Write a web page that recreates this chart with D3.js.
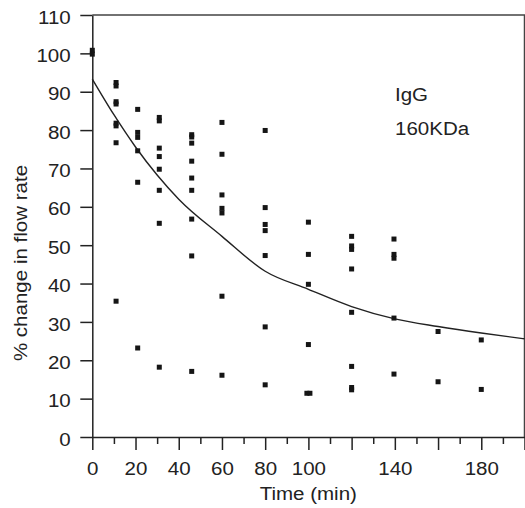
<!DOCTYPE html>
<html>
<head>
<meta charset="utf-8">
<script src="https://cdn.jsdelivr.net/npm/d3@7"></script>
<style>
  body { margin: 0; background: #fff; }
  text { font-family: "Liberation Sans", Arial, Helvetica, sans-serif; fill: #222; }
</style>
</head>
<body>
<div id="chart"></div>
<script>
// measured points: time (min) and % change in flow rate
var pointTimes = [0, 0,
  11, 11, 11, 11, 11, 11, 11, 11,
  21, 21, 21, 21, 21, 21,
  31, 31, 31, 31, 31, 31, 31, 31,
  46, 46, 46, 46, 46, 46, 46, 46, 46,
  60, 60, 60, 60, 60, 60, 60,
  80, 80, 80, 80, 80, 80, 80,
  100, 100, 100, 100, 99.3, 100.7,
  120, 120, 120, 120, 120, 120, 120, 120,
  139.6, 139.6, 139.6, 139.6, 139.6,
  160, 160,
  180, 180];
var pointValues = [100.8, 99.8,
  92.4, 91.5, 87.4, 86.8, 81.8, 81.1, 76.7, 35.4,
  85.4, 79.4, 78.1, 74.6, 66.4, 23.2,
  83.3, 82.4, 75.3, 73.1, 69.8, 64.3, 55.7, 18.2,
  78.8, 78.2, 76.6, 71.9, 67.5, 64.3, 56.8, 47.2, 17.1,
  82, 73.7, 63.1, 59.6, 58.4, 36.7, 16.1,
  79.9, 59.8, 55.4, 53.8, 47.3, 28.7, 13.6,
  56, 47.6, 39.8, 24.1, 11.4, 11.4,
  52.3, 49.8, 48.9, 43.8, 32.5, 18.4, 12.9, 12.3,
  51.6, 47.6, 46.6, 31, 16.4,
  27.5, 14.4,
  25.3, 12.4];

// fitted curve
var curveTimes = [0, 10, 20, 30, 40, 60, 80, 100, 120, 140, 160, 180, 200];
var curveValues = [93.3, 84.0, 75.6, 68.3, 62.0, 52.3, 43.2, 38.5, 34, 30.8, 28.8, 27.1, 25.6];

var xMajorTicks = [0, 20, 40, 60, 80, 100, 120, 140, 160, 180, 200];
var xMinorTicks = [10, 30, 50, 70, 90, 110, 130, 150, 170, 190];
var xTickLabels = [0, 20, 40, 60, 80, 100, 140, 180];
var yTicks = [0, 10, 20, 30, 40, 50, 60, 70, 80, 90, 100, 110];
var noteLines = ["IgG", "160KDa"];

var width = 525, height = 508;

var x = d3.scaleLinear().domain([0, 200]).range([92.3, 524.5]);
var y = d3.scaleLinear().domain([0, 110]).range([437, 15]);

var svg = d3.select("#chart").append("svg")
    .attr("width", width)
    .attr("height", height);

// frame on top and right
svg.append("path")
  .attr("d", "M" + x(0) + "," + y(110) + " L" + x(200) + "," + y(110) + " L" + x(200) + "," + y(0))
  .attr("fill", "none")
  .attr("stroke", "#444")
  .attr("stroke-width", 1.5);

// minor x ticks
svg.append("g")
  .attr("transform", "translate(0," + y(0) + ")")
  .call(d3.axisBottom(x).tickValues(xMinorTicks).tickSize(7).tickSizeOuter(0).tickFormat(""))
  .call(function(g) { g.select(".domain").remove(); });

// major x ticks and labels
var xAxis = svg.append("g")
  .attr("class", "axis")
  .attr("transform", "translate(0," + y(0) + ")")
  .call(d3.axisBottom(x).tickValues(xMajorTicks).tickSize(13).tickSizeOuter(0)
    .tickFormat(function(d) { return xTickLabels.indexOf(d) >= 0 ? d : ""; }));
xAxis.selectAll("text").attr("y", 38).attr("dy", null).attr("font-size", 18);

var yAxis = svg.append("g")
  .attr("class", "axis")
  .attr("transform", "translate(" + x(0) + ",0)")
  .call(d3.axisLeft(y).tickValues(yTicks).tickSize(12).tickPadding(9.6).tickSizeOuter(0));
yAxis.selectAll("text").attr("dy", "0.45em").attr("font-size", 18);

svg.selectAll(".axis .domain, .tick line")
  .attr("stroke", "#222")
  .attr("stroke-width", 1.5);

// curve
var line = d3.line()
  .curve(d3.curveMonotoneX)
  .x(function(d) { return x(d[0]); })
  .y(function(d) { return y(d[1]); });

svg.append("path")
  .datum(d3.zip(curveTimes, curveValues))
  .attr("d", line)
  .attr("fill", "none")
  .attr("stroke", "#222")
  .attr("stroke-width", 1.4);

// points
svg.append("g").selectAll("rect")
  .data(d3.zip(pointTimes, pointValues))
  .enter().append("rect")
    .attr("x", function(d) { return x(d[0]) - 2.5; })
    .attr("y", function(d) { return y(d[1]) - 2.5; })
    .attr("width", 5)
    .attr("height", 5)
    .attr("fill", "#151515");

// note
svg.append("g").selectAll("text")
  .data(noteLines)
  .enter().append("text")
    .attr("x", 395)
    .attr("y", function(d, i) { return 100.7 + i * 34.3; })
    .attr("font-size", 18)
    .text(function(d) { return d; });

svg.append("text")
  .attr("x", 308.3)
  .attr("y", 500)
  .attr("text-anchor", "middle")
  .attr("font-size", 18)
  .text("Time (min)");

svg.append("text")
  .attr("transform", "translate(27,263) rotate(-90)")
  .attr("text-anchor", "middle")
  .attr("font-size", 18)
  .text("% change in flow rate");

// glyphs in the source are a bit wider than Arial's
svg.selectAll("text").each(function() {
  var len = this.getComputedTextLength();
  if (len > 0) {
    d3.select(this)
      .attr("textLength", len * 1.14)
      .attr("lengthAdjust", "spacingAndGlyphs");
  }
});
</script>
</body>
</html>
